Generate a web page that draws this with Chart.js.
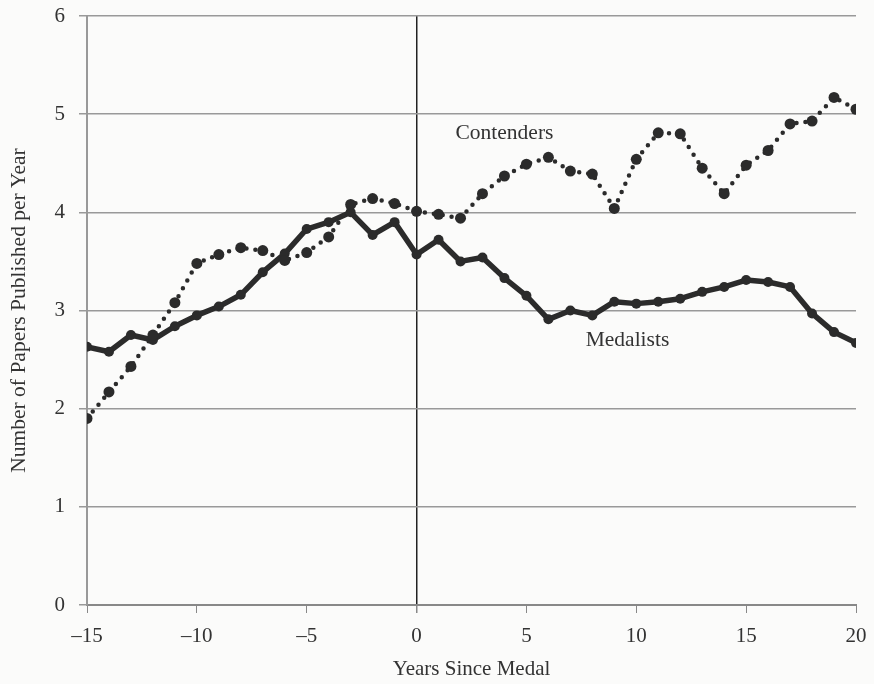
<!DOCTYPE html>
<html>
<head>
<meta charset="utf-8">
<script src="https://cdn.jsdelivr.net/npm/chart.js@4.4.1/dist/chart.umd.min.js"></script>
<style>
  html, body { margin: 0; padding: 0; background: #fbfbfa; }
  #wrap { width: 874px; height: 684px; }
</style>
</head>
<body>
<div id="wrap"><canvas id="myChart"></canvas></div>
<script>
const ctx = document.getElementById('myChart');

// years since medal
const years = [-15,-14,-13,-12,-11,-10,-9,-8,-7,-6,-5,-4,-3,-2,-1,0,1,2,3,4,5,6,7,8,9,10,11,12,13,14,15,16,17,18,19,20];
const medalists = [2.63,2.58,2.75,2.70,2.84,2.95,3.04,3.16,3.39,3.58,3.83,3.90,4.00,3.77,3.90,3.57,3.72,3.50,3.54,3.33,3.15,2.91,3.00,2.95,3.09,3.07,3.09,3.12,3.19,3.24,3.31,3.29,3.24,2.97,2.78,2.67];
const contenders = [1.90,2.17,2.43,2.75,3.08,3.48,3.57,3.64,3.61,3.51,3.59,3.75,4.08,4.14,4.09,4.01,3.98,3.94,4.19,4.37,4.49,4.56,4.42,4.39,4.04,4.54,4.81,4.80,4.45,4.19,4.48,4.63,4.90,4.93,5.17,5.05];
const xTicks = [-15,-10,-5,0,5,10,15,20];
const yTicks = [0,1,2,3,4,5,6];

const ink = '#2b2b2b';
const serif = "'Liberation Serif', 'DejaVu Serif', serif";

const toPoints = (vals) => years.map((x, i) => ({ x: x, y: vals[i] }));

// draws the two series names inside the plot
const seriesLabels = {
    id: 'seriesLabels',
    afterDatasetsDraw(chart) {
        const c = chart.ctx;
        const xs = chart.scales.x, ys = chart.scales.y;
        c.save();
        c.fillStyle = '#333';
        c.font = "21.5px " + serif;
        c.textAlign = 'center';
        c.textBaseline = 'middle';
        c.fillText('Contenders', xs.getPixelForValue(4.0), ys.getPixelForValue(4.80));
        c.fillText('Medalists', xs.getPixelForValue(9.6), ys.getPixelForValue(2.70));
        c.restore();
    }
};

new Chart(ctx, {
    type: 'line',
    data: {
        datasets: [{
            label: 'Contenders',
            data: toPoints(contenders),
            borderColor: ink,
            backgroundColor: ink,
            borderWidth: 4.5,
            borderDash: [0, 9],
            borderCapStyle: 'round',
            pointRadius: 5.5,
            pointBorderWidth: 0,
            tension: 0
        }, {
            label: 'Medalists',
            data: toPoints(medalists),
            borderColor: ink,
            backgroundColor: ink,
            borderWidth: 5.5,
            borderJoinStyle: 'round',
            pointRadius: 5,
            pointBorderWidth: 0,
            tension: 0
        }]
    },
    options: {
        responsive: true,
        maintainAspectRatio: false,
        animation: false,
        layout: { padding: { top: 16, right: 18, left: 0, bottom: 2 } },
        plugins: { legend: { display: false }, tooltip: { enabled: false } },
        scales: {
            x: {
                type: 'linear',
                min: -15,
                max: 20,
                afterBuildTicks: (axis) => { axis.ticks = xTicks.map(v => ({ value: v })); },
                afterFit: (axis) => { axis.height = 77; axis.paddingLeft = 0; axis.paddingRight = 0; },
                ticks: {
                    color: '#333',
                    font: { family: serif, size: 21 },
                    padding: 11,
                    callback: (v) => (v < 0 ? '\u2013' + Math.abs(v) : '' + v)
                },
                grid: {
                    drawOnChartArea: true,
                    color: (c) => (c.tick && c.tick.value === 0 ? '#222' : 'rgba(0,0,0,0)'),
                    lineWidth: (c) => (c.tick && c.tick.value === 0 ? 1.5 : 1),
                    tickColor: '#888',
                    tickLength: 8
                },
                border: { color: '#888', width: 2 },
                title: {
                    display: true,
                    text: 'Years Since Medal',
                    color: '#333',
                    font: { family: serif, size: 21 },
                    padding: { top: 6, bottom: 0 }
                }
            },
            y: {
                min: 0,
                max: 6,
                afterBuildTicks: (axis) => { axis.ticks = yTicks.map(v => ({ value: v })); },
                afterFit: (axis) => { axis.width = 87; axis.paddingTop = 0; },
                ticks: {
                    color: '#333',
                    font: { family: serif, size: 21 },
                    padding: 14
                },
                grid: {
                    color: '#999',
                    lineWidth: 1.5,
                    tickLength: 8,
                    tickColor: '#999'
                },
                border: { color: '#999', width: 2 },
                title: {
                    display: true,
                    text: 'Number of Papers Published per Year',
                    color: '#333',
                    font: { family: serif, size: 21.5 },
                    padding: { top: 6, bottom: 0 }
                }
            }
        }
    },
    plugins: [seriesLabels]
});
</script>
</body>
</html>
